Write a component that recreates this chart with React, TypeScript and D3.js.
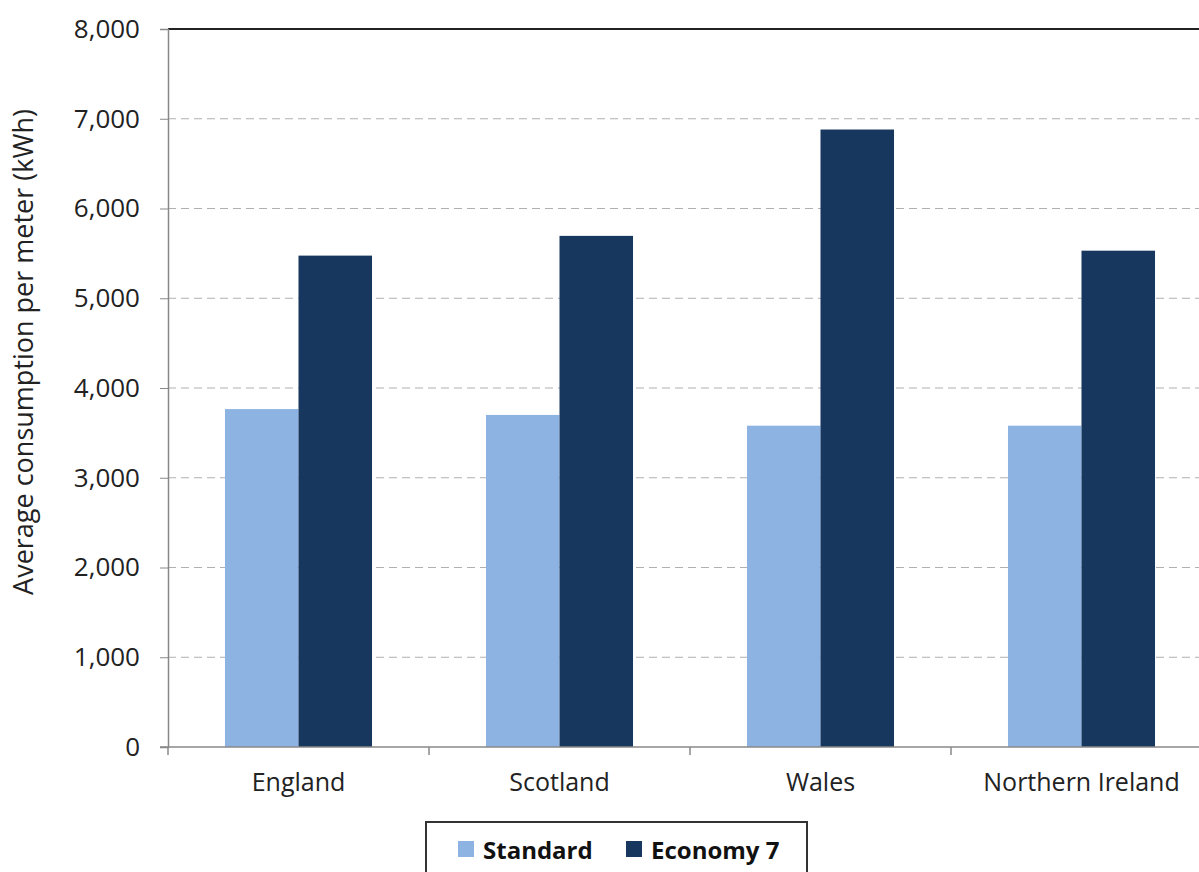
import React, { useEffect, useRef } from "react";
import * as d3 from "d3";

const categories = ["England", "Scotland", "Wales", "Northern Ireland"];
const seriesNames = ["Standard", "Economy 7"];
const standardValues = [3765, 3700, 3580, 3580];
const economy7Values = [5475, 5695, 6880, 5530];
const yTicks = [0, 1000, 2000, 3000, 4000, 5000, 6000, 7000, 8000];
const colors = ["#8DB3E2", "#17375E"];

const W = 1199;
const H = 872;

export default function App() {
  const ref = useRef<SVGSVGElement>(null);

  useEffect(() => {
    document.body.style.margin = "0";
    const svg = d3.select(ref.current);
    svg.selectAll("*").remove();

    const left = 168, right = 1212, top = 29, bottom = 747;
    const font = "'Open Sans', sans-serif";

    const x = d3.scaleBand().domain(categories).range([left, right]).paddingInner(0).paddingOuter(0);
    const inner = d3.scaleBand().domain(seriesNames).range([0, x.bandwidth()]).paddingInner(0).paddingOuter(0.775);
    const y = d3.scaleLinear().domain([0, 8000]).range([bottom, top]);

    // gridlines
    svg.append("g").selectAll("line").data(yTicks.filter(t => t > 0 && t < 8000)).join("line")
      .attr("x1", left).attr("x2", right)
      .attr("y1", d => y(d)).attr("y2", d => y(d))
      .attr("stroke", "#b0b0b0").attr("stroke-width", 1).attr("stroke-dasharray", "8,5");

    // top border
    svg.append("line").attr("x1", left).attr("x2", right).attr("y1", top).attr("y2", top)
      .attr("stroke", "#222").attr("stroke-width", 2);

    // bars
    const data = categories.map((c, i) => ({ c, vals: [standardValues[i], economy7Values[i]] }));
    const groups = svg.append("g").selectAll("g").data(data).join("g")
      .attr("transform", d => `translate(${x(d.c)},0)`);
    groups.selectAll("rect").data(d => d.vals.map((v, j) => ({ v, s: seriesNames[j], j }))).join("rect")
      .attr("x", d => inner(d.s)!)
      .attr("width", inner.bandwidth())
      .attr("y", d => y(d.v))
      .attr("height", d => bottom - y(d.v))
      .attr("fill", d => colors[d.j]);

    // y axis
    const yAxis = svg.append("g").attr("transform", `translate(${left},0)`)
      .call(d3.axisLeft(y).tickValues(yTicks).tickSize(8).tickPadding(20).tickFormat(d3.format(",")));
    yAxis.select(".domain").attr("stroke", "#888").attr("stroke-width", 1.5);
    yAxis.selectAll(".tick line").attr("stroke", "#888");
    yAxis.selectAll("text").attr("font-family", font).attr("font-size", 26).attr("fill", "#222");

    // x axis
    const xAxis = svg.append("g").attr("transform", `translate(0,${bottom})`)
      .call(d3.axisBottom(x).tickSize(0).tickPadding(26));
    xAxis.select(".domain").attr("stroke", "#888").attr("stroke-width", 1.5).attr("d", `M${left - 8},0H${right}`);
    xAxis.selectAll("text").attr("font-family", font).attr("font-size", 25).attr("fill", "#222");
    // category boundary ticks
    svg.append("g").selectAll("line").data(categories).join("line")
      .attr("x1", d => x(d)!).attr("x2", d => x(d)!)
      .attr("y1", bottom).attr("y2", bottom + 8)
      .attr("stroke", "#888").attr("stroke-width", 1.5);

    // y title
    svg.append("text")
      .attr("transform", `translate(22,352) rotate(-90)`)
      .attr("text-anchor", "middle")
      .attr("dominant-baseline", "central")
      .attr("font-family", font).attr("font-size", 27).attr("fill", "#222")
      .text("Average consumption per meter (kWh)");

    // legend
    const lg = svg.append("g");
    lg.append("rect").attr("x", 426).attr("y", 822).attr("width", 381).attr("height", 80)
      .attr("fill", "white").attr("stroke", "#333").attr("stroke-width", 2);
    const items = [{ name: seriesNames[0], sx: 458, tx: 483 }, { name: seriesNames[1], sx: 626, tx: 651 }];
    items.forEach((it, i) => {
      lg.append("rect").attr("x", it.sx).attr("y", 841).attr("width", 16).attr("height", 16).attr("fill", colors[i]);
      lg.append("text").attr("x", it.tx).attr("y", 849).attr("dominant-baseline", "central")
        .attr("font-family", font).attr("font-weight", "bold").attr("font-size", 24).attr("fill", "#111")
        .text(it.name);
    });
  }, []);

  return <svg ref={ref} width={W} height={H} style={{ display: "block", background: "white" }} />;
}
